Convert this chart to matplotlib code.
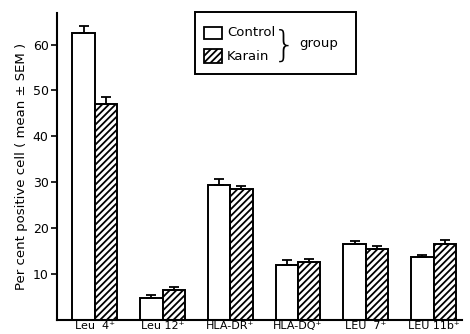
import numpy as np
import matplotlib
matplotlib.use("Agg")
import matplotlib.pyplot as plt
from matplotlib.patches import Rectangle

markers = ["Leu  4⁺", "Leu 12⁺", "HLA-DR⁺", "HLA-DQ⁺", "LEU  7⁺", "LEU 11b⁺"]
control = [62.6, 4.6, 29.3, 11.8, 16.5, 13.6]
control_sem = [1.5, 0.8, 1.3, 1.2, 0.7, 0.5]
karain = [47.0, 6.5, 28.4, 12.5, 15.4, 16.5]
karain_sem = [1.5, 0.7, 0.8, 0.7, 0.6, 0.9]
yticks = [10, 20, 30, 40, 50, 60]

plt.rcParams['hatch.linewidth'] = 1.3
plt.rcParams['font.family'] = 'DejaVu Sans'

fig = plt.figure(figsize=(4.7, 3.34), dpi=100)
ax = fig.add_axes([0.121, 0.0434, 0.862, 0.9176])

x = np.arange(len(markers))
w = 0.33
ekw = dict(elinewidth=1.3, capthick=1.3, capsize=3.5, ecolor='black')
ax.bar(x - w / 2, control, w, color='white', edgecolor='black', linewidth=1.4,
       yerr=[np.zeros(len(x)), control_sem], error_kw=ekw, zorder=2)
ax.bar(x + w / 2, karain, w, color='white', edgecolor='black', linewidth=1.4,
       hatch='/////', yerr=[np.zeros(len(x)), karain_sem], error_kw=ekw, zorder=2)

ax.set_xlim(-0.56, 5.42)
ax.set_ylim(0, 66.9)
ax.set_yticks(yticks)
ax.set_yticklabels([str(v) for v in yticks], fontsize=9)
ax.set_xticks(x)
ax.set_xticklabels(markers, fontsize=8)
ax.tick_params(axis='x', length=0, pad=1)
ax.tick_params(axis='y', length=4, width=1.2, direction='out', pad=2)
for s in ['top', 'right']:
    ax.spines[s].set_visible(False)
for s in ['left', 'bottom']:
    ax.spines[s].set_linewidth(1.5)
ax.set_ylabel('Per cent positive cell ( mean ± SEM )', fontsize=9.5, labelpad=3)

# legend box drawn in figure pixels
def fx(px):
    return px / 470

def fy(py):
    return 1 - py / 334

fig.patches.append(Rectangle((fx(195), fy(74)), fx(356) - fx(195), fy(12) - fy(74),
                             transform=fig.transFigure, fill=False, lw=1.4, ec='black'))
fig.patches.append(Rectangle((fx(204), fy(39)), fx(222) - fx(204), fy(27) - fy(39),
                             transform=fig.transFigure, fill=True, fc='white', lw=1.3, ec='black'))
fig.patches.append(Rectangle((fx(204), fy(63)), fx(222) - fx(204), fy(49) - fy(63),
                             transform=fig.transFigure, fill=True, fc='white', lw=1.3, ec='black',
                             hatch='/////'))
fig.text(fx(227), fy(33), 'Control', fontsize=9.5, va='center', ha='left')
fig.text(fx(227), fy(57), 'Karain', fontsize=9.5, va='center', ha='left')
fig.text(fx(284), fy(46), '}', fontsize=26, va='center', ha='center', fontweight='light')
fig.text(fx(299), fy(44), 'group', fontsize=9.5, va='center', ha='left')

fig.savefig('out.png', dpi=100)
